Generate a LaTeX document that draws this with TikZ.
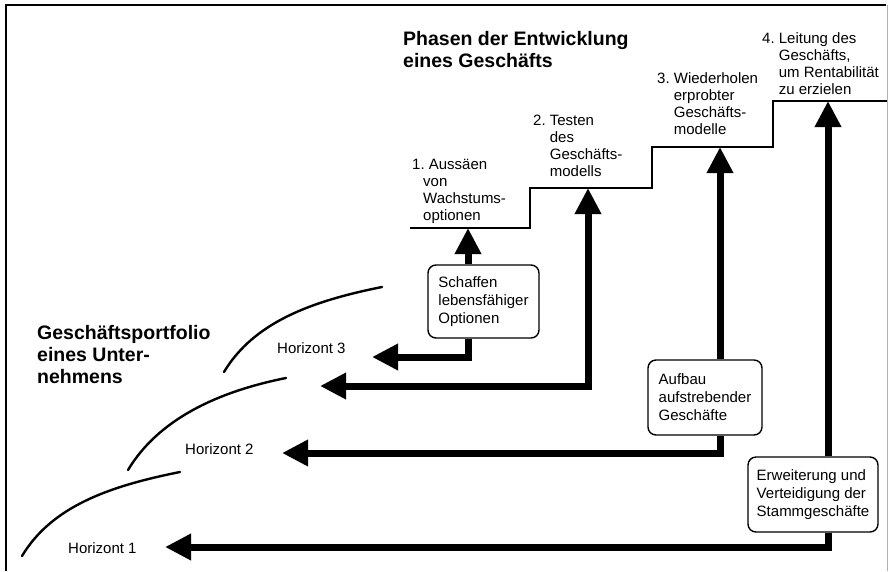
\documentclass[tikz,border=0pt]{standalone}
\usepackage{fontspec}
\setmainfont{Liberation Sans}
\usetikzlibrary{arrows.meta}
\begin{document}
\begin{tikzpicture}[x=1pt,y=-1pt,
  >={Triangle[length=26pt,width=25pt]},
  fat/.style={line width=7pt, line join=miter},
  stair/.style={line width=1.4pt},
  curve/.style={line width=2.4pt, line cap=round},
  lbl/.style={anchor=north west, inner sep=0pt, align=left, font=\fontsize{15}{17}\selectfont},
  ttl/.style={anchor=north west, inner sep=0pt, align=left, font=\fontsize{19.5}{22}\selectfont\bfseries},
  hor/.style={anchor=base west, inner sep=0pt, font=\fontsize{15}{17}\selectfont},
  actbox/.style={draw, line width=1.4pt, rounded corners=8pt, fill=white, align=left,
    font=\fontsize{15}{18}\selectfont, inner sep=0pt},
]
\useasboundingbox (0,0) rectangle (890,571);
% frame
\draw[line width=1.5pt] (6,571) -- (6,5) -- (886,5);
\draw[gray!60, line width=1pt] (887,5) -- (887,571);

% stairs
\draw[stair] (410,228) -- (530,228) -- (530,188) -- (652,188) -- (652,147) -- (773,147) -- (773,101) -- (887,101);
\coordinate (s1) at (468,228);
\coordinate (s2) at (588,188);
\coordinate (s3) at (720,147);
\coordinate (s4) at (828,101);

% titles
\node[ttl] (phasen) at (403,31) {Phasen der Entwicklung\\eines Geschäfts};
\node[ttl] (portf) at (37,325) {Geschäftsportfolio\\eines Unter-\\nehmens};

% step labels
\node[lbl] (p1) at (412,159) {1.\ Aussäen\\\hspace*{11pt}von\\\hspace*{11pt}Wachstums-\\\hspace*{11pt}optionen};
\node[lbl] (p2) at (533,115) {2.\ Testen\\\hphantom{2.\ }des\\\hphantom{2.\ }Geschäfts-\\\hphantom{2.\ }modells};
\node[lbl] (p3) at (657,72) {3.\ Wiederholen\\\hphantom{3.\ }erprobter\\\hphantom{3.\ }Geschäfts-\\\hphantom{3.\ }modelle};
\node[lbl] (p4) at (762,32) {4.\ Leitung des\\\hphantom{4.\ }Geschäfts,\\\hphantom{4.\ }um Rentabilität\\\hphantom{4.\ }zu erzielen};

% curves
\draw[curve] (224,372) .. controls (254,322) and (312,301) .. (382,287);
\draw[curve] (128,470) .. controls (158,420) and (216,392) .. (286,378);
\draw[curve] (22,556) .. controls (52,506) and (110,486) .. (180,472);

% horizon labels
\node[hor] (h3) at (277,353) {Horizont 3};
\node[hor] (h2) at (185,454) {Horizont 2};
\node[hor] (h1) at (68,553) {Horizont 1};

\coordinate (h3tip) at (372,357);
\coordinate (mtip) at (320,386);
\coordinate (h2tip) at (282,453);
\coordinate (h1tip) at (165,547);

% boxes
\node[actbox, minimum width=111pt, minimum height=73pt] (b1) at (483.5,301.5) {Schaffen\\lebensfähiger\\Optionen};
\node[actbox, minimum width=114pt, minimum height=75pt] (b2) at (705,397.5) {Aufbau\\aufstrebender\\Geschäfte};
\node[actbox, minimum width=130pt, minimum height=75pt] (b3) at (813,494.5) {Erweiterung und\\Verteidigung der\\Stammgeschäfte};

% arrows
\draw[fat,->] (b1.north -| s1) -- (s1);
\draw[fat,->] (b1.south -| s1) -- (s1 |- h3tip) -- (h3tip);
\draw[fat,<->] (mtip) -- (s2 |- mtip) -- (s2);
\draw[fat,->] (b2.north -| s3) -- (s3);
\draw[fat,->] (b2.south -| s3) -- (s3 |- h2tip) -- (h2tip);
\draw[fat,->] (b3.north -| s4) -- (s4);
\draw[fat,->] (b3.south -| s4) -- (s4 |- h1tip) -- (h1tip);
\end{tikzpicture}
\end{document}
